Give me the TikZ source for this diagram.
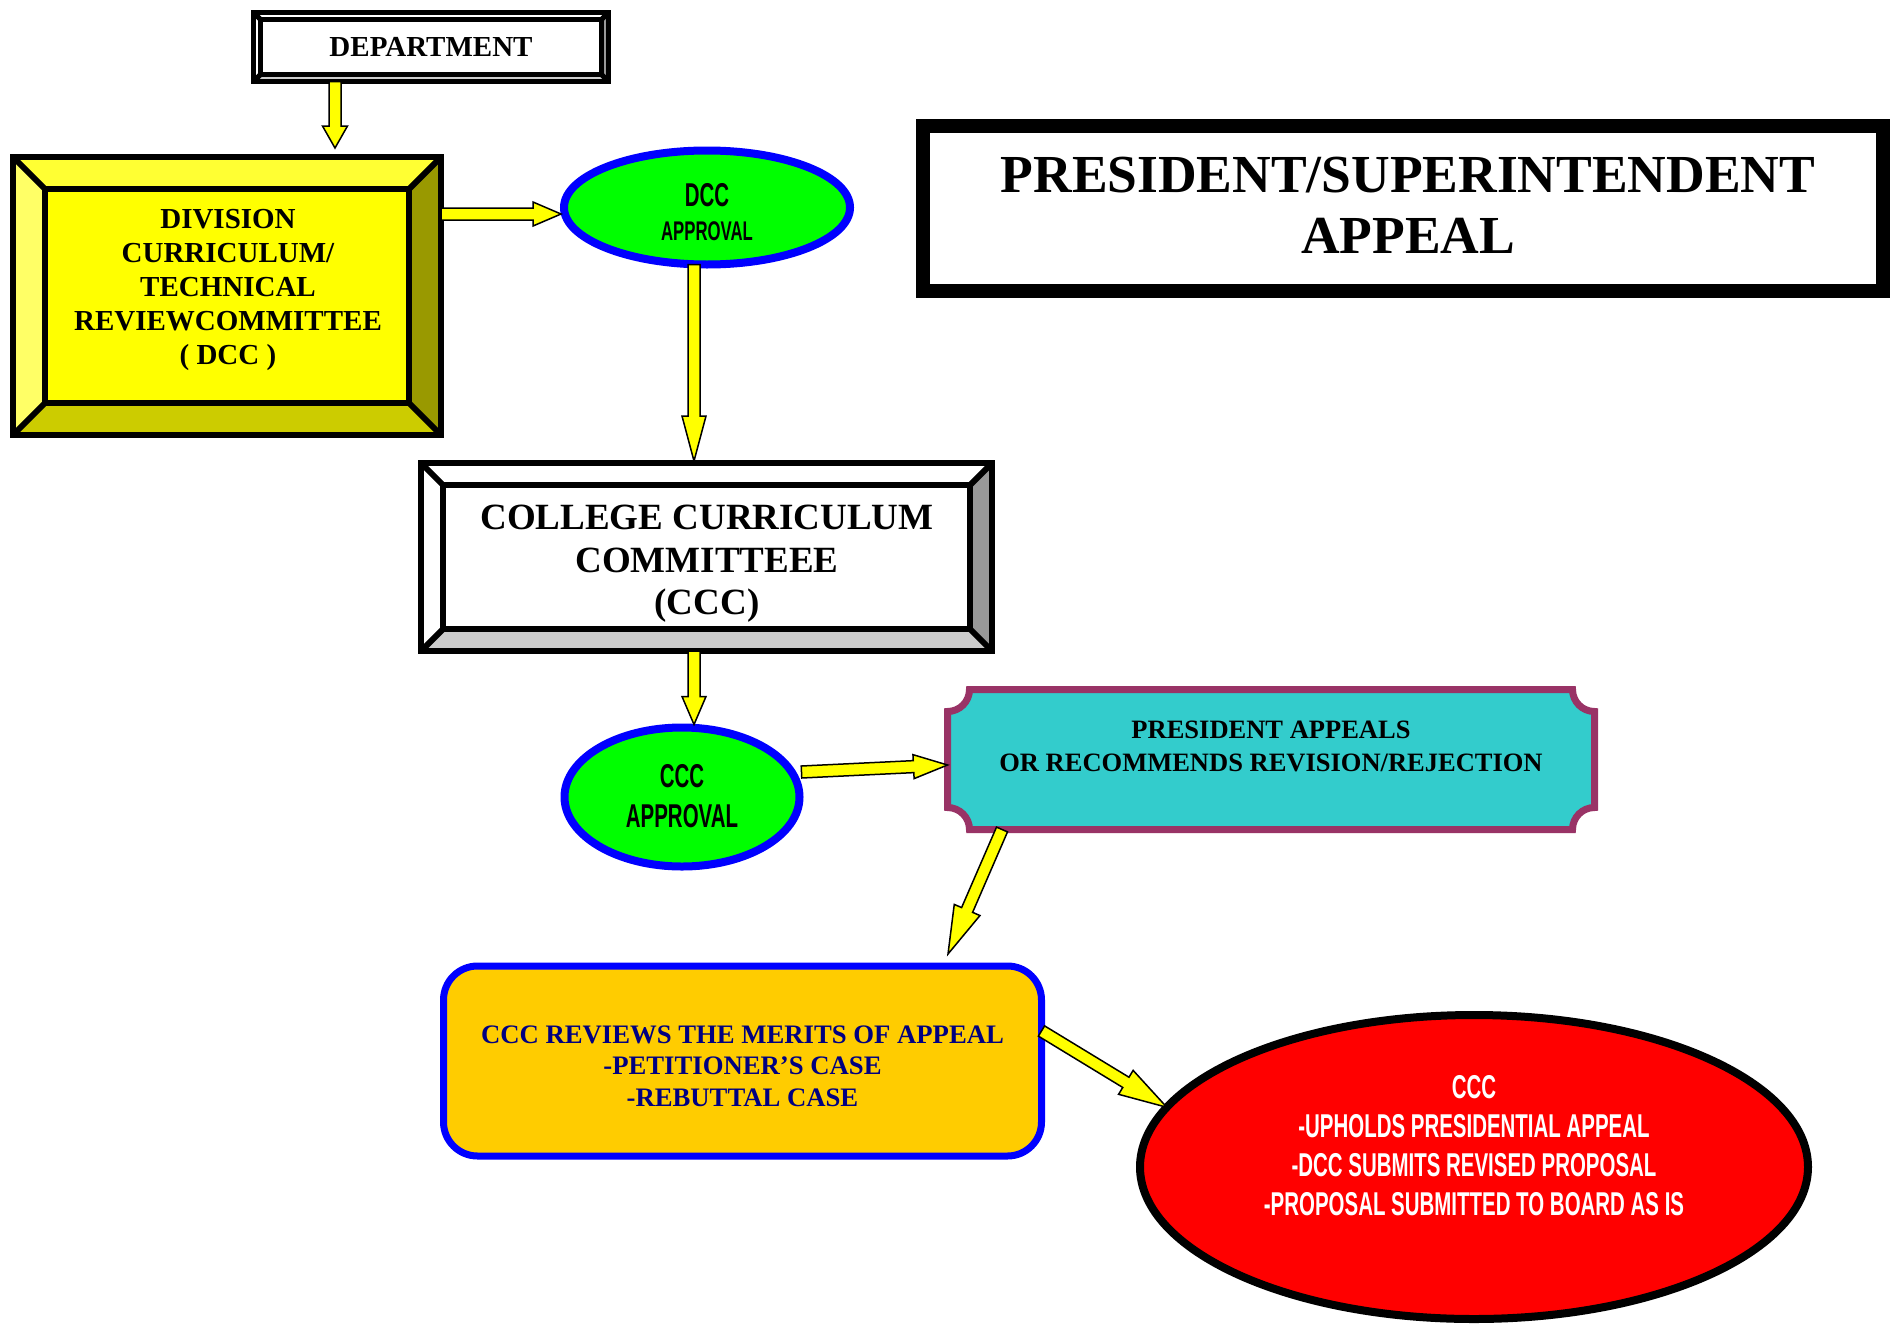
\documentclass[tikz,border=0pt]{standalone}
\usepackage{fontspec}
\setmainfont{Liberation Serif}
\newfontfamily\agency{Liberation Sans}[FakeStretch=0.62]
\usetikzlibrary{calc,shapes.geometric}
\definecolor{ytop}{HTML}{FFFF33}
\definecolor{yleft}{HTML}{FFFF66}
\definecolor{yright}{HTML}{999900}
\definecolor{ybot}{HTML}{CCCC00}
\definecolor{yface}{HTML}{FFFF00}
\definecolor{gright}{HTML}{999999}
\definecolor{gbot}{HTML}{CCCCCC}
\definecolor{appgreen}{HTML}{00FF00}
\definecolor{appblue}{HTML}{0000FF}
\definecolor{prescyan}{HTML}{33CCCC}
\definecolor{prespurple}{HTML}{993366}
\definecolor{revgold}{HTML}{FFCC00}
\definecolor{revnavy}{HTML}{000080}
\definecolor{redfill}{HTML}{FF0000}
\tikzset{
  plain/.style={inner sep=0pt, outer sep=0pt},
  frame/.style={plain, rectangle},
  blk/.style={fill=yface, draw=black, line width=1.5pt, line join=miter},
  apprell/.style={plain, ellipse, draw=appblue, fill=appgreen, line width=8pt},
}
% #1 node, #2 bevel, #3 top, #4 left, #5 right, #6 bottom, #7 face, #8 line width
\newcommand\bevelframe[8]{%
  \coordinate (#1-a) at ($(#1.north west)+(#2,-#2)$);
  \coordinate (#1-b) at ($(#1.north east)+(-#2,-#2)$);
  \coordinate (#1-c) at ($(#1.south east)+(-#2,#2)$);
  \coordinate (#1-d) at ($(#1.south west)+(#2,#2)$);
  \fill[#3] (#1.north west) -- (#1.north east) -- (#1-b) -- (#1-a) -- cycle;
  \fill[#5] (#1.north east) -- (#1.south east) -- (#1-c) -- (#1-b) -- cycle;
  \fill[#6] (#1.south east) -- (#1.south west) -- (#1-d) -- (#1-c) -- cycle;
  \fill[#4] (#1.south west) -- (#1.north west) -- (#1-a) -- (#1-d) -- cycle;
  \fill[#7] (#1-a) rectangle (#1-c);
  \draw[line width=#8] (#1.north west) -- (#1-a) (#1.north east) -- (#1-b)
     (#1.south east) -- (#1-c) (#1.south west) -- (#1-d);
  \draw[line width=#8] (#1-a) rectangle (#1-c);
  \draw[line width=#8, line join=miter] (#1.north west) rectangle (#1.south east);
}
% #1 from, #2 to, #3 half shaft, #4 half head, #5 head length
\newcommand\blockarrow[5]{%
  \draw[blk] let \p1=(#1), \p2=(#2), \n1={atan2(\y2-\y1,\x2-\x1)},
      \n2={veclen(\x2-\x1,\y2-\y1)} in
    ($(\p1)+({\n1+90}:#3)$) -- ($(\p1)+(\n1:{\n2-#5})+({\n1+90}:#3)$)
    -- ($(\p1)+(\n1:{\n2-#5})+({\n1+90}:#4)$) -- (\p2)
    -- ($(\p1)+(\n1:{\n2-#5})+({\n1-90}:#4)$) -- ($(\p1)+(\n1:{\n2-#5})+({\n1-90}:#3)$)
    -- ($(\p1)+({\n1-90}:#3)$) -- cycle;
}
\begin{document}
\begin{tikzpicture}[x=1pt,y=1pt]
\useasboundingbox (0,0) rectangle (1898,-1325);
\fill[white] (0,0) rectangle (1898,-1325);

% DEPARTMENT
\node[frame, minimum width=355pt, minimum height=69pt] (dept) at (431,-47) {};
\bevelframe{dept}{7}{white}{white}{gright}{gbot}{white}{5pt}
\node[plain, font=\bfseries\fontsize{29}{34}\selectfont] (deptt) at (dept.center) {DEPARTMENT};

% DIVISION
\node[frame, minimum width=428pt, minimum height=278pt] (div) at (227,-296) {};
\bevelframe{div}{32}{ytop}{yleft}{yright}{ybot}{yface}{6pt}
\node[plain, align=center, font=\bfseries\fontsize{29}{34}\selectfont] (divt) at (228,-289.5)
  {DIVISION\\CURRICULUM/\\TECHNICAL\\REVIEWCOMMITTEE\\( DCC )};

% CCC
\node[frame, minimum width=571pt, minimum height=188pt] (ccc) at (706.5,-557) {};
\bevelframe{ccc}{22}{white}{white}{gright}{gbot}{white}{6pt}
\node[plain, align=center, font=\bfseries\fontsize{37}{42.5}\selectfont] (ccct) at (707,-564)
  {COLLEGE CURRICULUM\\COMMITTEEE\\(CCC)};

% DCC approval
\node[apprell, minimum width=286pt, minimum height=114pt] (dcc) at (707,-207.5) {};
\node[plain, align=center, font=\agency\bfseries\fontsize{27}{34}\selectfont] (dcct) at (707,-212)
  {{\fontsize{33}{34}\selectfont DCC}\\APPROVAL};

% CCC approval
\node[apprell, minimum width=235pt, minimum height=139pt] (ccca) at (682,-797) {};
\node[plain, align=center, font=\agency\bfseries\fontsize{33}{40}\selectfont] (cccat) at (682,-796)
  {CCC\\APPROVAL};

% President appeals
\node[frame, minimum width=647pt, minimum height=140pt] (pres) at (1271,-759.5) {};
\draw[line width=7pt, draw=prespurple, fill=prescyan]
  ($(pres.north west)+(22,0)$) -- ($(pres.north east)+(-22,0)$) arc[start angle=180,end angle=270,radius=22pt]
  -- ($(pres.south east)+(0,22)$) arc[start angle=90,end angle=180,radius=22pt]
  -- ($(pres.south west)+(22,0)$) arc[start angle=0,end angle=90,radius=22pt]
  -- ($(pres.north west)+(0,-22)$) arc[start angle=-90,end angle=0,radius=22pt] -- cycle;
\node[plain, align=center, font=\bfseries\fontsize{26.5}{33}\selectfont] (prest) at (1271,-746.5)
  {PRESIDENT APPEALS\\OR RECOMMENDS REVISION/REJECTION};

% CCC reviews
\node[plain, rectangle, rounded corners=34pt, draw=appblue, fill=revgold, line width=7pt,
  minimum width=598pt, minimum height=190pt, align=center, text=revnavy,
  font=\bfseries\fontsize{26.7}{31.5}\selectfont] (rev) at (742.5,-1061) {};
\node[plain, align=center, text=revnavy, font=\bfseries\fontsize{26.7}{31.5}\selectfont] (revt) at (742.5,-1066)
  {CCC REVIEWS THE MERITS OF APPEAL\\-PETITIONER’S CASE\\-REBUTTAL CASE};

% Red outcome
\node[plain, ellipse, draw=black, fill=redfill, line width=8pt, minimum width=668pt, minimum height=304pt] (red) at (1474,-1167) {};
\node[plain, align=center, text=white, font=\agency\bfseries\fontsize{33}{39}\selectfont] (redt) at (1474,-1146)
  {CCC\\-UPHOLDS PRESIDENTIAL APPEAL\\-DCC SUBMITS REVISED PROPOSAL\\-PROPOSAL SUBMITTED TO BOARD AS IS};

% Title
\node[plain, draw=black, line width=14pt, minimum width=960pt, minimum height=165pt] (title) at (1403,-208.5) {};
\node[plain, align=center, font=\bfseries\fontsize{53.5}{61}\selectfont] (titlet) at (1408,-205)
  {PRESIDENT/SUPERINTENDENT\\APPEAL};

% Arrows
\blockarrow{dept.south -| 335,0}{$(div.north -| 335,0)+(0,9)$}{6}{12.5}{22}
\blockarrow{div.east |- 0,-214}{$(dcc.west |- 0,-214)+(-3,0)$}{6}{12}{28}
\blockarrow{dcc.south -| 694,0}{$(ccc.north -| 694,0)+(0,2)$}{6}{12}{45}
\blockarrow{ccc.south -| 694,0}{$(ccca.north -| 694,0)+(0,3)$}{6}{12}{28}
\blockarrow{$(ccca.east)+(2,25)$}{pres.west |- 0,-765}{6}{12}{34}
\blockarrow{pres.south -| 1002,0}{$(rev.north -| 948,0)+(0,12)$}{6}{14}{48}
\blockarrow{rev.east |- 0,-1031}{red.169}{6}{14}{48}
\end{tikzpicture}
\end{document}
